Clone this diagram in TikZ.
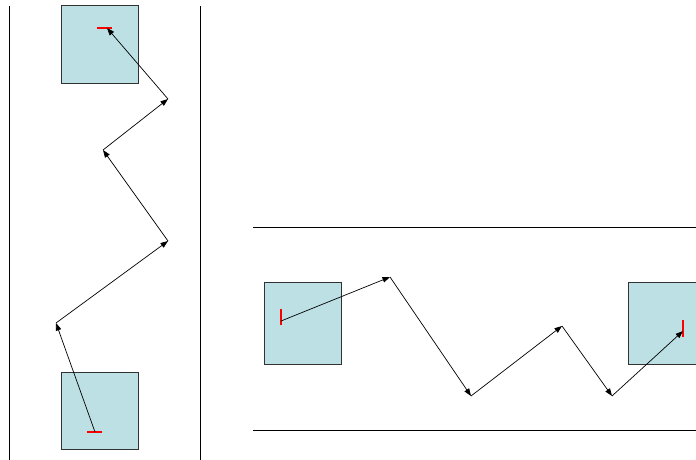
\documentclass[tikz,border=0pt]{standalone}
\usetikzlibrary{arrows.meta}
\definecolor{boxfill}{RGB}{188,224,228}
\definecolor{boxline}{RGB}{50,50,50}
\begin{document}
\begin{tikzpicture}[x=1pt,y=-1pt,
  box/.style={draw=boxline,fill=boxfill,line width=1pt},
  wall/.style={draw=black,line width=0.9pt},
  seg/.style={draw=black,line width=0.7pt,-{Triangle[length=7.5pt,width=5.5pt]}},
  redmark/.style={draw=red,line width=1.3pt}]
\useasboundingbox (0,0) rectangle (696,460);
% walls
\draw[wall] (9,6) -- (9,460);
\draw[wall] (200,6) -- (200,460);
\draw[wall] (253,227) -- (696,227);
\draw[wall] (253,430) -- (696,430);
% boxes
\node[box,minimum width=77pt,minimum height=77pt,inner sep=0pt] (tb) at (99.5,44.5) {};
\node[box,minimum width=77pt,minimum height=77pt,inner sep=0pt] (bb) at (99.5,410.5) {};
\node[box,minimum width=77pt,minimum height=82pt,inner sep=0pt] (lb) at (302.5,323) {};
\path[box] (628,282) rectangle (698,364);
\coordinate (rb) at (662,323);
% red marks
\draw[redmark] (87,432) -- (102,432);
\draw[redmark] (97,28) -- (112,28);
\draw[redmark] (281,309) -- (281,325);
\draw[redmark] (683,320) -- (683,337);
% vertical path
\coordinate (a0) at (95,432);
\coordinate (a1) at (56,323);
\coordinate (a2) at (168,241);
\coordinate (a3) at (103,150);
\coordinate (a4) at (168,99);
\coordinate (a5) at (107,28);
\draw[seg] (a0) -- (a1);
\draw[seg] (a1) -- (a2);
\draw[seg] (a2) -- (a3);
\draw[seg] (a3) -- (a4);
\draw[seg] (a4) -- (a5);
% horizontal path
\coordinate (b0) at (281,321);
\coordinate (b1) at (390,277);
\coordinate (b2) at (471,396);
\coordinate (b3) at (562,326);
\coordinate (b4) at (612,396);
\coordinate (b5) at (683,331);
\draw[seg] (b0) -- (b1);
\draw[seg] (b1) -- (b2);
\draw[seg] (b2) -- (b3);
\draw[seg] (b3) -- (b4);
\draw[seg] (b4) -- (b5);
\end{tikzpicture}
\end{document}
